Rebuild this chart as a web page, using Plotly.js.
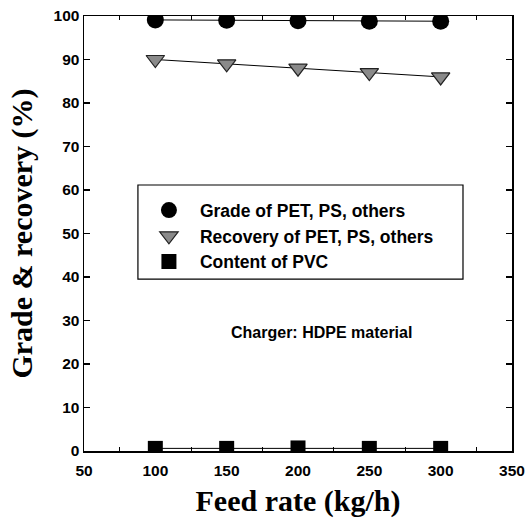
<!DOCTYPE html>
<html>
<head>
<meta charset="utf-8">
<script src="https://cdn.plot.ly/plotly-3.0.1.min.js"></script>
<style>
html,body{margin:0;padding:0;background:#fff;}
#chart{width:531px;height:526px;}
</style>
</head>
<body>
<div id="chart"></div>
<script>
var feedRate = [100, 150, 200, 250, 300];
var gradeValues = [99.1, 99.0, 98.9, 98.8, 98.8];
var recoveryValues = [90.0, 89.0, 88.0, 87.0, 86.0];
var pvcValues = [0.6, 0.6, 0.7, 0.6, 0.6];
var seriesNames = ["Grade of PET, PS, others", "Recovery of PET, PS, others", "Content of PVC"];
var xTickVals = [50, 100, 150, 200, 250, 300, 350];
var yTickVals = [0, 10, 20, 30, 40, 50, 60, 70, 80, 90, 100];
var annotationText = "Charger: HDPE material";

var seriesValues = [gradeValues, recoveryValues, pvcValues];
var markerStyles = [
  {symbol: "circle", size: 17, color: "#000"},
  {symbol: "triangle-down", size: 16, color: "#8a8a8a", line: {color: "#222", width: 1.2}},
  {symbol: "square", size: 15, color: "#000"}
];

var traces = [];
// connecting lines (not in legend)
seriesValues.forEach(function (vals, i) {
  traces.push({x: feedRate, y: vals, mode: "lines", showlegend: false,
    line: {color: "#000", width: 1}, hoverinfo: "skip"});
});
// markers (in legend)
seriesValues.forEach(function (vals, i) {
  traces.push({x: feedRate, y: vals, mode: "markers", name: seriesNames[i],
    marker: markerStyles[i]});
});

var tickFont = {family: "Arial, Liberation Sans, sans-serif", size: 15.5, color: "#000", weight: "bold"};
var titleFont = {family: "Liberation Serif, Times New Roman, serif", size: 30, color: "#000", weight: "bold"};

var axisCommon = {
  showgrid: false, zeroline: false, showline: true, linecolor: "#000", linewidth: 1.5,
  mirror: "ticks", ticks: "inside", ticklen: 6, tickwidth: 1.2, tickcolor: "#000",
  tickfont: tickFont
};

var layout = {
  width: 531, height: 526,
  margin: {l: 84, r: 19, t: 16, b: 75},
  paper_bgcolor: "#fff", plot_bgcolor: "#fff",
  showlegend: true,
  xaxis: Object.assign({}, axisCommon, {
    range: [50, 350], tickvals: xTickVals, ticktext: xTickVals.map(String),
    ticklabelstandoff: 5,
    minor: {dtick: 25, tick0: 50, ticks: "inside", ticklen: 4, tickcolor: "#000", tickwidth: 1},
    title: {text: "Feed rate (kg/h)", standoff: 12, font: titleFont}
  }),
  yaxis: Object.assign({}, axisCommon, {
    range: [0, 100], tickvals: yTickVals, ticktext: yTickVals.map(String),
    title: {text: "Grade & recovery (%)", standoff: 12, font: titleFont}
  }),
  legend: {
    x: 0.126, y: 0.595, xanchor: "left", yanchor: "top",
    borderwidth: 0, bgcolor: "rgba(0,0,0,0)",
    font: {family: "Arial, Liberation Sans, sans-serif", size: 17.5, color: "#000", weight: "bold"},
    itemwidth: 52, tracegroupgap: 0
  },
  shapes: [{
    type: "rect", xref: "paper", yref: "paper",
    x0: 0.126, x1: 0.8855, y0: 0.395, y1: 0.6115,
    line: {color: "#000", width: 1.2}, fillcolor: "rgba(0,0,0,0)", layer: "below"
  }],
  annotations: [{
    text: annotationText, xref: "paper", yref: "paper", x: 0.555, y: 0.272,
    showarrow: false, xanchor: "center", yanchor: "middle",
    font: {family: "Arial, Liberation Sans, sans-serif", size: 16, color: "#000", weight: "bold"}
  }]
};

Plotly.newPlot("chart", traces, layout, {displayModeBar: false, staticPlot: true});
</script>
</body>
</html>
